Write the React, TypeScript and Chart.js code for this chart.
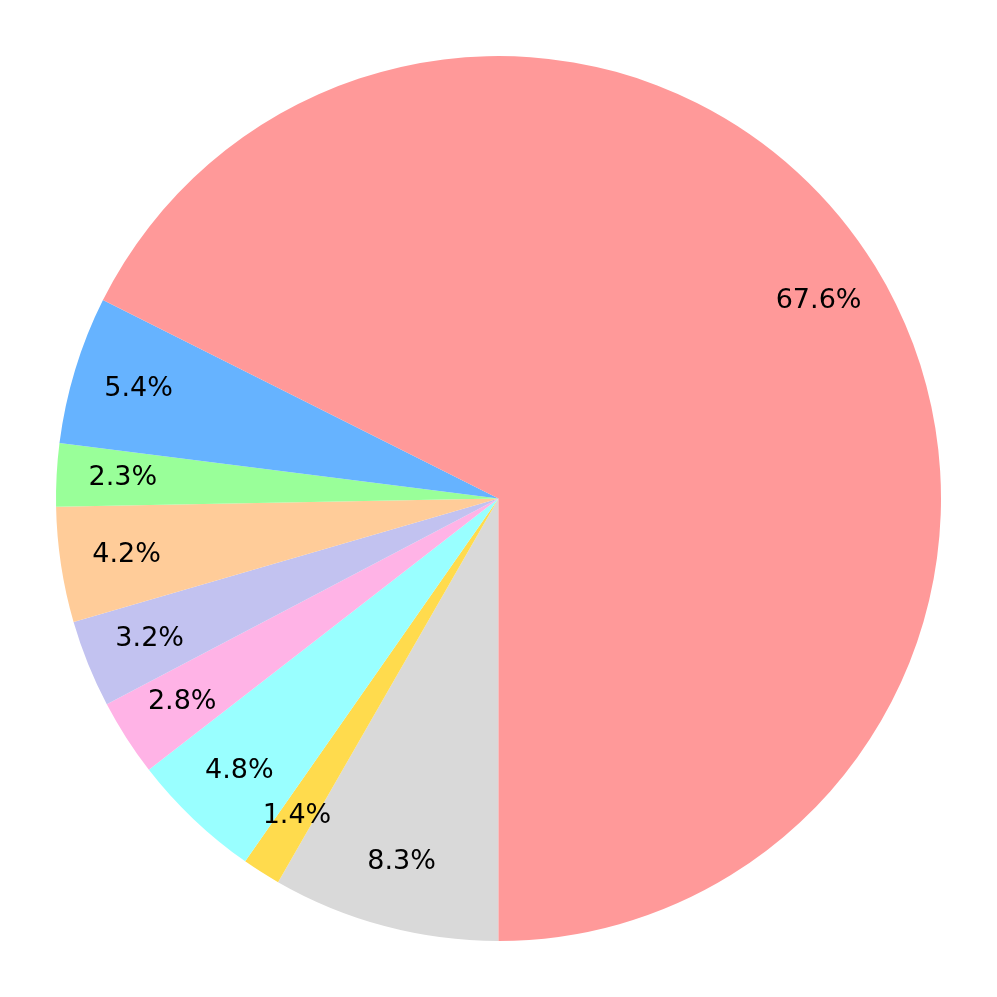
import React, { useEffect, useRef } from "react";
import { Chart, registerables } from "chart.js";

Chart.register(...registerables);

// Values in matplotlib counter-clockwise order starting at 6 o'clock
const categories = ["A", "B", "C", "D", "E", "F", "G", "H", "I"];
const values = [67.6, 5.4, 2.3, 4.2, 3.2, 2.8, 4.8, 1.4, 8.3];
const colors = [
  "#ff9999",
  "#66b3ff",
  "#99ff99",
  "#ffcc99",
  "#c2c2f0",
  "#ffb3e6",
  "#99ffff",
  "#ffdb4d",
  "#d9d9d9",
];
const pctLabels = ["67.6%", "5.4%", "2.3%", "4.2%", "3.2%", "2.8%", "4.8%", "1.4%", "8.3%"];

// Chart.js draws clockwise, so reverse to get the same visual order
const revLabels = [...categories].reverse();
const revValues = [...values].reverse();
const revColors = [...colors].reverse();
const revPct = [...pctLabels].reverse();

const pctPlugin = {
  id: "pctLabels",
  afterDatasetsDraw(chart: any) {
    const ctx = chart.ctx;
    const meta = chart.getDatasetMeta(0);
    ctx.save();
    ctx.fillStyle = "#000000";
    ctx.font = '27px "DejaVu Sans"';
    ctx.textAlign = "center";
    ctx.textBaseline = "middle";
    meta.data.forEach((arc: any, i: number) => {
      const { x, y, startAngle, endAngle, outerRadius } = arc.getProps(
        ["x", "y", "startAngle", "endAngle", "outerRadius"],
        true
      );
      const mid = (startAngle + endAngle) / 2;
      const r = outerRadius * 0.85;
      ctx.fillText(revPct[i], x + Math.cos(mid) * r, y + Math.sin(mid) * r);
    });
    ctx.restore();
  },
};

export default function App() {
  const ref = useRef<HTMLCanvasElement | null>(null);
  useEffect(() => {
    document.body.style.margin = "0";
    const chart = new Chart(ref.current as HTMLCanvasElement, {
      type: "pie",
      data: {
        labels: revLabels,
        datasets: [
          {
            data: revValues,
            backgroundColor: revColors,
            borderWidth: 0,
          },
        ],
      },
      options: {
        animation: false,
        responsive: false,
        rotation: 180,
        layout: { padding: 56 },
        plugins: {
          legend: { display: false },
          tooltip: { enabled: false },
        },
      },
      plugins: [pctPlugin],
    });
    return () => chart.destroy();
  }, []);
  return (
    <div style={{ position: "fixed", left: 0, top: 0, width: 997, height: 997, background: "#fff" }}>
      <canvas ref={ref} width={997} height={997} style={{ width: 997, height: 997 }} />
    </div>
  );
}
